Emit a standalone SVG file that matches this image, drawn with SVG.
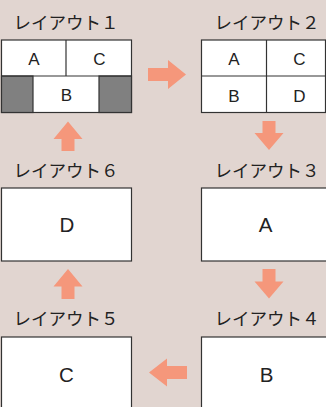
<svg xmlns="http://www.w3.org/2000/svg" width="326" height="407" viewBox="0 0 326 407">
<style>
.bg{fill:#e1d5d0}
.box{fill:#fff;stroke:#333;stroke-width:1.2}
.gray{fill:#808080;stroke:#333;stroke-width:1.2}
.ln{stroke:#333;stroke-width:1.2;fill:none}
.lbl{font-family:"Noto Sans CJK JP","Noto Sans",sans-serif;font-size:17.5px;fill:#222;text-anchor:middle}
.cell{font-family:"Liberation Sans",Arial,sans-serif;font-size:17px;fill:#222;text-anchor:middle}
.big{font-family:"Liberation Sans",Arial,sans-serif;font-size:20.5px;fill:#222;text-anchor:middle}
.arr{fill:#f5977b}
</style>
<rect class="bg" x="0" y="0" width="326" height="407"/>
<g id="layout1">
<text class="lbl" x="66" y="29">レイアウト１</text>
<rect class="box" x="1.5" y="40" width="130" height="72.5"/>
<rect class="gray" x="1.5" y="76" width="31.5" height="36.5"/>
<rect class="gray" x="99" y="76" width="32.5" height="36.5"/>
<line class="ln" x1="1.5" y1="76" x2="131.5" y2="76"/>
<line class="ln" x1="66" y1="40" x2="66" y2="76"/>
<text class="cell" x="34" y="65">A</text>
<text class="cell" x="99.5" y="65">C</text>
<text class="cell" x="66.5" y="100.5">B</text>
</g>
<g id="layout2">
<text class="lbl" x="267" y="29">レイアウト２</text>
<rect class="box" x="201.5" y="40" width="124" height="72.5"/>
<line class="ln" x1="201.5" y1="76" x2="325.5" y2="76"/>
<line class="ln" x1="266.5" y1="40" x2="266.5" y2="112.5"/>
<text class="cell" x="234" y="65">A</text>
<text class="cell" x="299.5" y="65">C</text>
<text class="cell" x="234" y="101.5">B</text>
<text class="cell" x="299.5" y="101.5">D</text>
</g>
<g id="layout3">
<text class="lbl" x="267" y="177">レイアウト３</text>
<rect class="box" x="201.5" y="188" width="131" height="73"/>
<text class="big" x="265.5" y="231.5">A</text>
</g>
<g id="layout4">
<text class="lbl" x="267" y="325">レイアウト４</text>
<rect class="box" x="201.5" y="337" width="131" height="80"/>
<text class="big" x="266.5" y="381.5">B</text>
</g>
<g id="layout5">
<text class="lbl" x="66" y="325">レイアウト５</text>
<rect class="box" x="1.5" y="337" width="130" height="80"/>
<text class="big" x="66.5" y="381.5">C</text>
</g>
<g id="layout6">
<text class="lbl" x="66" y="177">レイアウト６</text>
<rect class="box" x="1.5" y="188" width="130" height="73"/>
<text class="big" x="67" y="231.5">D</text>
</g>
<g id="connectors">
<polygon class="arr" points="148,68 168,68 168,60 186,74.5 168,89 168,81 148,81"/>
<polygon class="arr" points="262.5,121 275.5,121 275.5,133 283.5,133 269,150 254.5,133 262.5,133"/>
<polygon class="arr" points="262.5,269 275.5,269 275.5,281.5 283.5,281.5 269,298.5 254.5,281.5 262.5,281.5"/>
<polygon class="arr" points="187,366 167,366 167,358.5 149,372.5 167,386.5 167,379 187,379"/>
<polygon class="arr" points="61.5,299 74.5,299 74.5,286.5 82.5,286.5 68,269 53.5,286.5 61.5,286.5"/>
<polygon class="arr" points="61.5,151 74.5,151 74.5,139 82.5,139 68,121.5 53.5,139 61.5,139"/>
</g>
</svg>
